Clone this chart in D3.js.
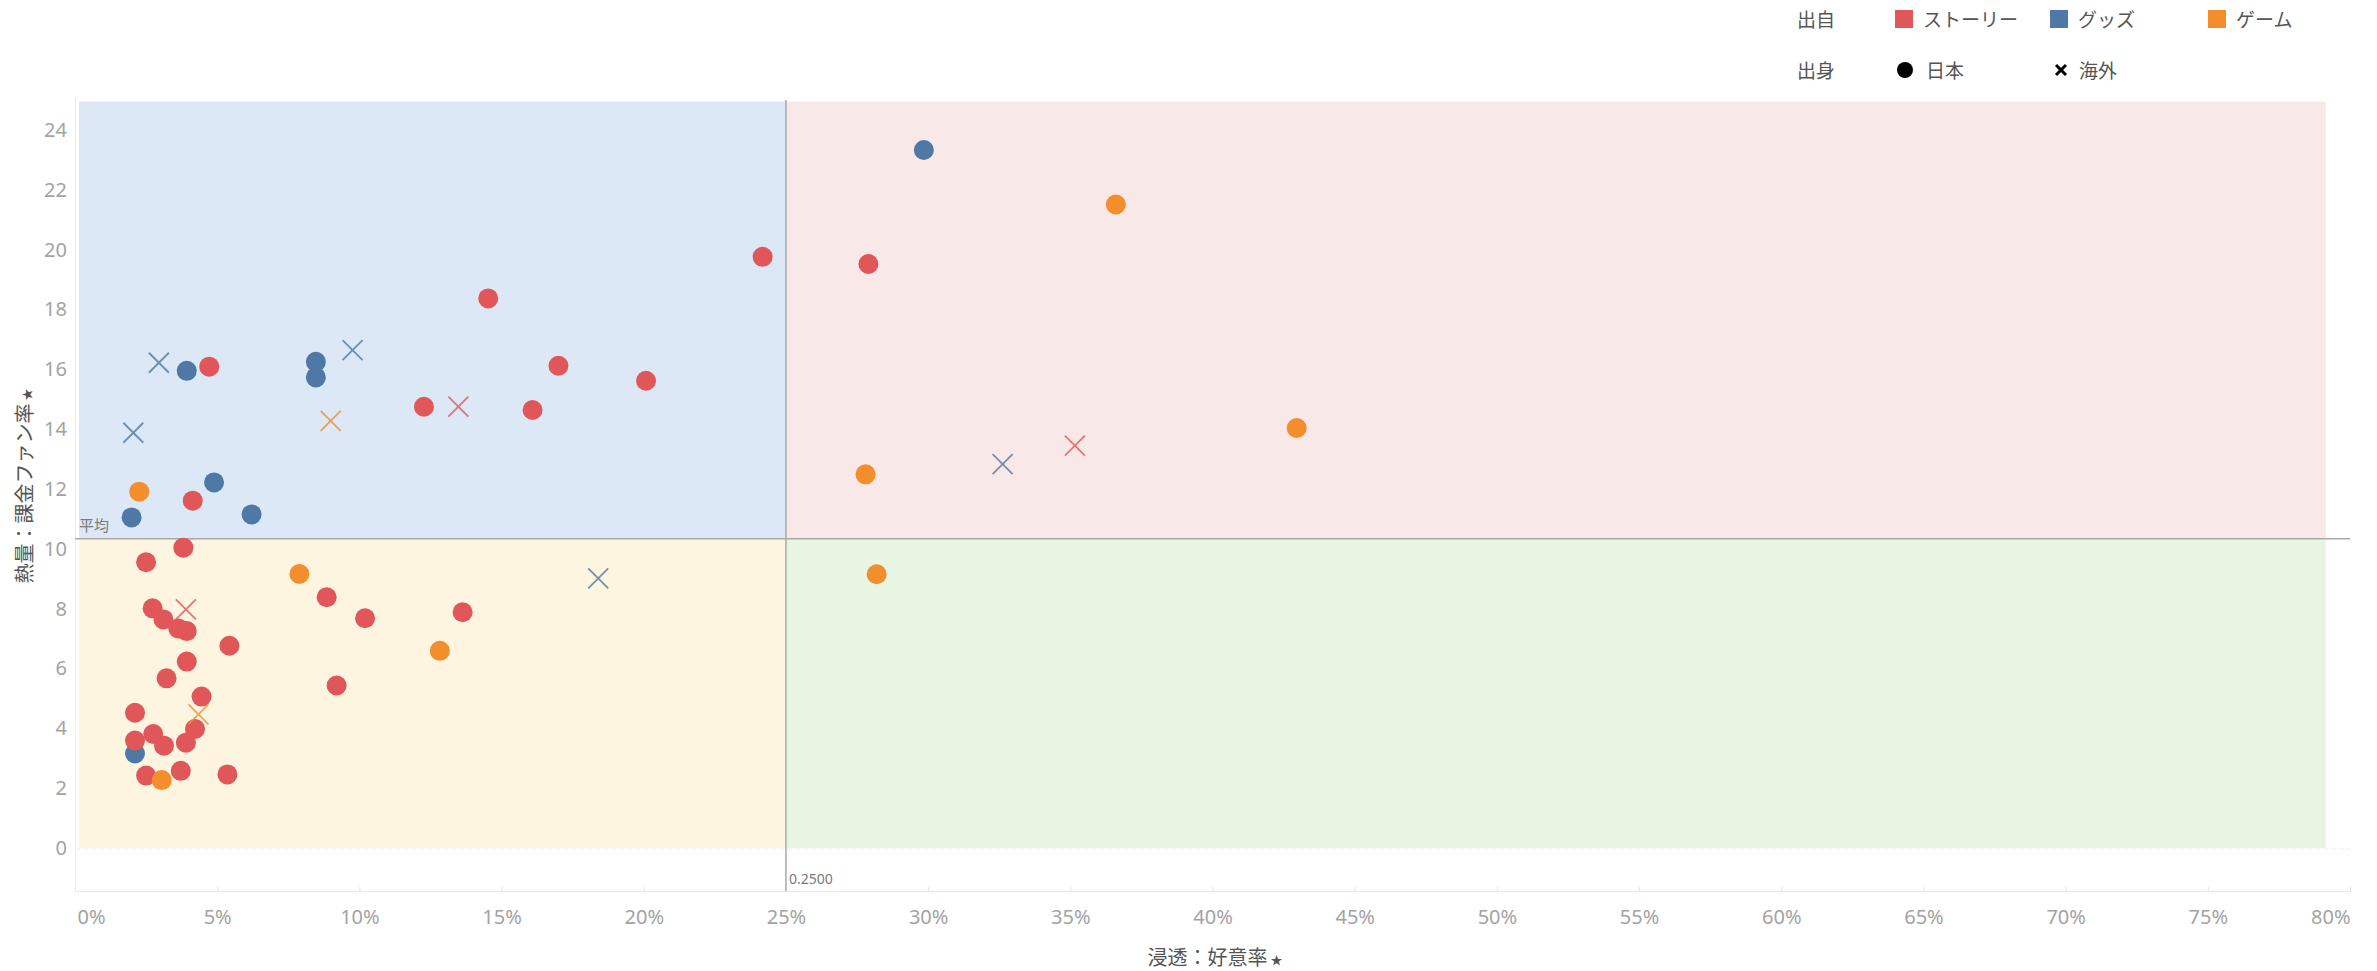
<!DOCTYPE html>
<html>
<head>
<meta charset="utf-8">
<script src="https://cdn.jsdelivr.net/npm/d3@7"></script>
<style>
  html, body { margin: 0; padding: 0; background: #fff; }
  svg { display: block; font-family: "Noto Sans CJK JP", "Noto Sans", sans-serif; }
</style>
</head>
<body>
<svg id="chart" width="2377" height="971"></svg>
<script>
// ---------- data ----------
const categories = ["ストーリー", "グッズ", "ゲーム"];
const categoryColors = ["#e15759", "#4e79a7", "#f28e2b"];
const origins = ["日本", "海外"];
const xTicks = [0, 0.05, 0.1, 0.15, 0.2, 0.25, 0.3, 0.35, 0.4, 0.45, 0.5, 0.55, 0.6, 0.65, 0.7, 0.75, 0.8];
const yTicks = [0, 2, 4, 6, 8, 10, 12, 14, 16, 18, 20, 22, 24];
const xThreshold = 0.25;
const yAverage = 10.34;

// [好意率, 課金ファン率]
const storyJapan = [
  [0.0381, 10.04], [0.0414, 11.61], [0.0472, 16.09], [0.1227, 14.75], [0.1453, 18.37],
  [0.1700, 16.12], [0.1609, 14.64], [0.2008, 15.62], [0.2418, 19.76], [0.2790, 19.52],
  [0.0250, 9.55], [0.0885, 8.38], [0.0273, 8.01], [0.0311, 7.64], [0.1020, 7.68],
  [0.1363, 7.88], [0.0363, 7.34], [0.0393, 7.25], [0.0543, 6.76], [0.0393, 6.23],
  [0.0322, 5.67], [0.0920, 5.43], [0.0445, 5.06], [0.0211, 4.52], [0.0422, 3.98],
  [0.0275, 3.81], [0.0313, 3.42], [0.0390, 3.52], [0.0211, 3.59], [0.0250, 2.42],
  [0.0372, 2.58], [0.0536, 2.46]
];
const storyOverseas = [[0.1348, 14.75], [0.0390, 7.98], [0.3516, 13.45]];
const goodsJapan = [
  [0.2985, 23.33], [0.0393, 15.95], [0.0847, 16.25], [0.0847, 15.73],
  [0.0489, 12.22], [0.0621, 11.15], [0.0199, 11.05], [0.0211, 3.16]
];
const goodsOverseas = [[0.0295, 16.22], [0.0976, 16.64], [0.0205, 13.88], [0.1840, 9.01], [0.3262, 12.83]];
const gameJapan = [
  [0.3660, 21.51], [0.4296, 14.04], [0.2780, 12.49], [0.2819, 9.15],
  [0.0226, 11.91], [0.0789, 9.16], [0.1283, 6.59], [0.0305, 2.27]
];
const gameOverseas = [[0.0899, 14.28], [0.0434, 4.47]];

// series: [points, category index, origin index]; draw order goods, story, game
const series = [
  [goodsJapan, 1, 0], [storyJapan, 0, 0], [gameJapan, 2, 0],
  [goodsOverseas, 1, 1], [storyOverseas, 0, 1], [gameOverseas, 2, 1]
];

// quadrant extents in data units
const bandX = [0.0014, xThreshold, 0.7915];
const bandY = [0, yAverage, 24.95];
const quadColors = { tl: "#dce8f5", tr: "#f9e8e8", bl: "#fdf5df", br: "#e8f5e3" };

// ---------- layout ----------
const svg = d3.select("#chart");
const x = d3.scaleLinear().domain([0, 0.8]).range([75, 2350]);
const y = d3.scaleLinear().domain([0, 24]).range([848, 130]);
const axisY = 891;   // pixel row of the x axis line
const topY = 97;

svg.append("rect").attr("width", 2377).attr("height", 971).attr("fill", "#fff");

// quadrants
const quads = [
  [bandX[0], bandX[1], bandY[1], bandY[2], quadColors.tl],
  [bandX[1], bandX[2], bandY[1], bandY[2], quadColors.tr],
  [bandX[0], bandX[1], bandY[0], bandY[1], quadColors.bl],
  [bandX[1], bandX[2], bandY[0], bandY[1], quadColors.br]
];
svg.append("g").selectAll("rect").data(quads).join("rect")
  .attr("x", d => x(d[0])).attr("width", d => x(d[1]) - x(d[0]))
  .attr("y", d => y(d[3])).attr("height", d => y(d[2]) - y(d[3]))
  .attr("fill", d => d[4]);

// zero line (dotted)
svg.append("line").attr("x1", x(0)).attr("x2", x(0.8)).attr("y1", y(0) + 1).attr("y2", y(0) + 1)
  .attr("stroke", "#e2e2e2").attr("stroke-width", 1).attr("stroke-dasharray", "1,1");

// left axis line
svg.append("line").attr("x1", x(0) + 0.5).attr("x2", x(0) + 0.5).attr("y1", topY).attr("y2", axisY)
  .attr("stroke", "#ececec").attr("stroke-width", 1);

// y axis
const yAxis = svg.append("g").attr("transform", `translate(${x(0)},0)`)
  .call(d3.axisLeft(y).tickValues(yTicks).tickSize(0).tickPadding(8));
yAxis.select(".domain").remove();
yAxis.selectAll("text").attr("fill", "#a3a3a3").attr("font-size", 20)
  .attr("font-family", "'Noto Sans', 'Noto Sans CJK JP', sans-serif");

// x axis
const xAxis = svg.append("g").attr("transform", `translate(0,${axisY})`)
  .call(d3.axisBottom(x).tickValues(xTicks).tickFormat(d3.format(".0%")).tickSizeInner(-4).tickSizeOuter(0).tickPadding(19));
xAxis.select(".domain").attr("stroke", "#e8e8e8");
xAxis.selectAll(".tick line").attr("stroke", "#e4e4e4");
xAxis.selectAll("text").attr("fill", "#a3a3a3").attr("font-size", 20)
  .attr("font-family", "'Noto Sans', 'Noto Sans CJK JP', sans-serif");
xAxis.selectAll(".tick").filter(d => d === 0).select("text").attr("text-anchor", "start").attr("dx", 2);
xAxis.selectAll(".tick").filter(d => d === 0.8).select("text").attr("text-anchor", "end");

// reference lines
svg.append("line").attr("x1", x(0)).attr("x2", x(0.8)).attr("y1", y(yAverage)).attr("y2", y(yAverage))
  .attr("stroke", "#a9a9a9").attr("stroke-width", 1.5);
svg.append("line").attr("x1", x(xThreshold)).attr("x2", x(xThreshold)).attr("y1", topY + 3).attr("y2", axisY)
  .attr("stroke", "#a9a9a9").attr("stroke-width", 1.5);

svg.append("text").attr("x", x(0) + 4).attr("y", y(yAverage) - 8)
  .attr("font-size", 15).attr("fill", "#7a7a7a").text("平均");
svg.append("text").attr("x", x(xThreshold) + 3).attr("y", 884)
  .attr("font-size", 14).attr("fill", "#7a7a7a")
  .attr("font-family", "'Liberation Sans Narrow', 'Noto Sans', sans-serif").text(xThreshold.toFixed(4));

// marks
const marks = svg.append("g");
series.forEach(([pts, ci, oi]) => {
  const col = categoryColors[ci];
  if (oi === 0) {
    marks.append("g").selectAll("circle").data(pts).join("circle")
      .attr("cx", d => x(d[0])).attr("cy", d => y(d[1])).attr("r", 10)
      .attr("fill", col);
  } else {
    const s = 10;
    const g = marks.append("g").selectAll("g").data(pts).join("g")
      .attr("transform", d => `translate(${x(d[0])},${y(d[1])})`)
      .attr("stroke", col).attr("stroke-width", 1.8).attr("opacity", 0.8);
    g.append("line").attr("x1", -s).attr("y1", -s).attr("x2", s).attr("y2", s);
    g.append("line").attr("x1", -s).attr("y1", s).attr("x2", s).attr("y2", -s);
  }
});

// axis titles
svg.append("text").attr("transform", `translate(32,486) rotate(-90)`)
  .attr("text-anchor", "middle").attr("font-size", 20).attr("fill", "#555")
  .text("熱量：課金ファン率").append("tspan").attr("font-size", 12).attr("dx", 3).text("★");
svg.append("text").attr("x", 1215).attr("y", 965)
  .attr("text-anchor", "middle").attr("font-size", 20).attr("fill", "#555")
  .text("浸透：好意率").append("tspan").attr("font-size", 12).attr("dx", 3).text("★");

// legend
const leg = svg.append("g").attr("font-size", 19).attr("fill", "#555");
leg.append("text").attr("x", 1797).attr("y", 27).text("出自");
const catX = [1895, 2050, 2208];
categories.forEach((c, i) => {
  leg.append("rect").attr("x", catX[i]).attr("y", 10).attr("width", 18).attr("height", 18).attr("fill", categoryColors[i]);
  leg.append("text").attr("x", catX[i] + 28).attr("y", 27).text(c);
});
leg.append("text").attr("x", 1797).attr("y", 78).text("出身");
leg.append("circle").attr("cx", 1905).attr("cy", 70).attr("r", 8).attr("fill", "#000");
leg.append("text").attr("x", 1926).attr("y", 78).text(origins[0]);
const lx = leg.append("g").attr("transform", "translate(2061,70)").attr("stroke", "#000").attr("stroke-width", 3);
lx.append("line").attr("x1", -5).attr("y1", -5).attr("x2", 5).attr("y2", 5);
lx.append("line").attr("x1", -5).attr("y1", 5).attr("x2", 5).attr("y2", -5);
leg.append("text").attr("x", 2079).attr("y", 78).text(origins[1]);
</script>
</body>
</html>
